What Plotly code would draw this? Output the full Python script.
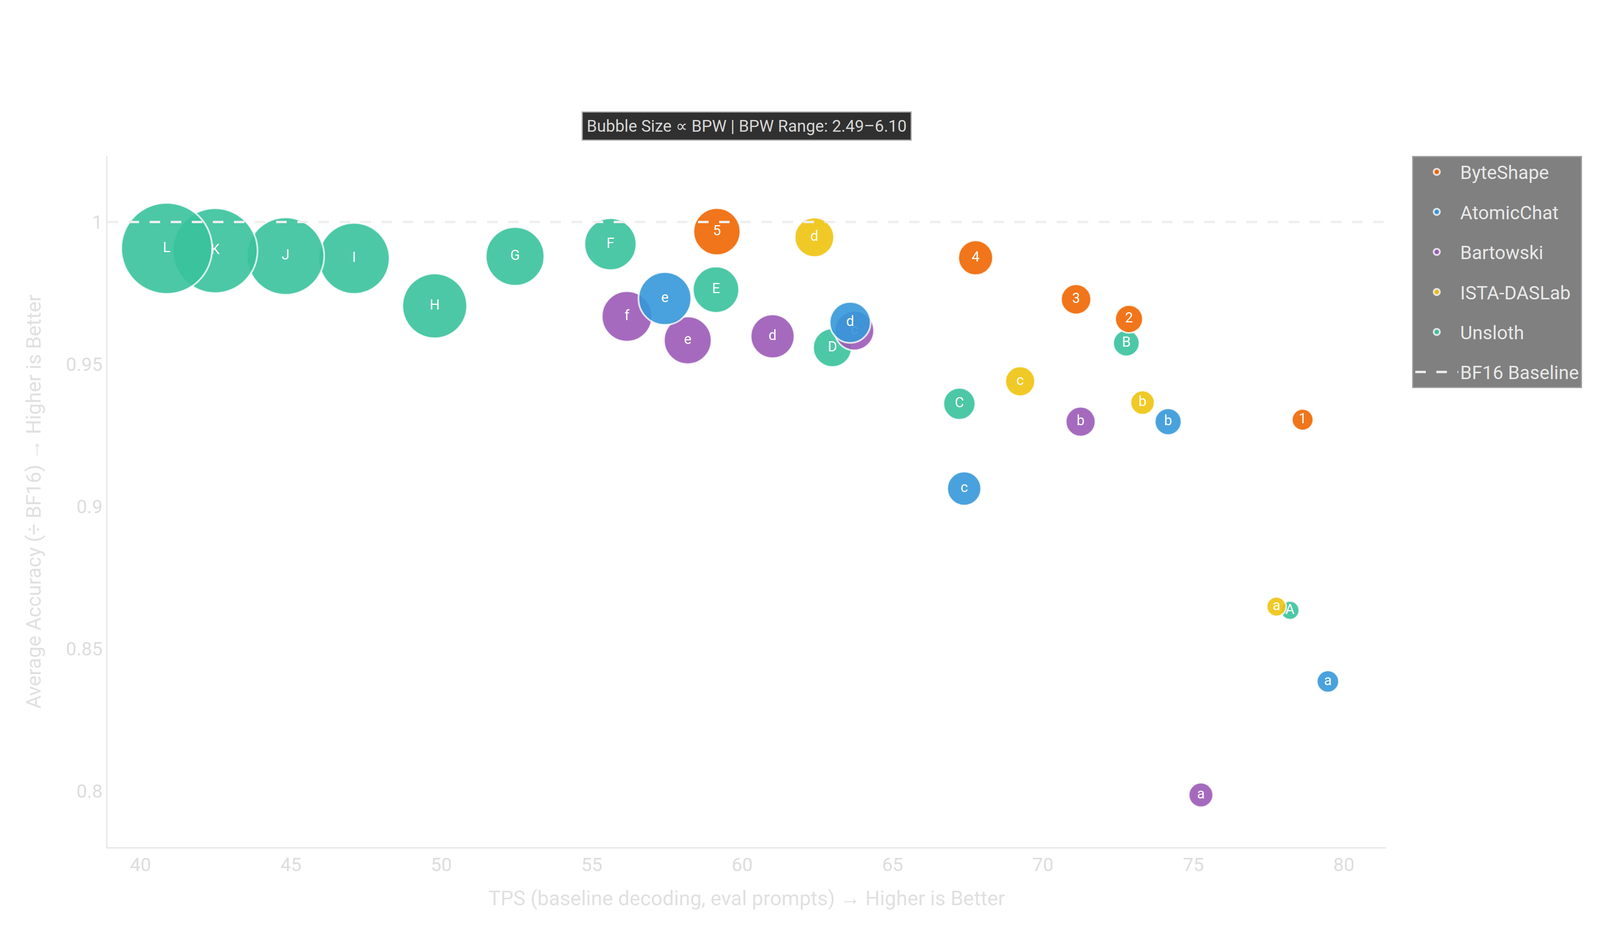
import plotly.graph_objects as go

# ---------------- data ----------------
groups = ["ByteShape", "AtomicChat", "Bartowski", "ISTA-DASLab", "Unsloth"]

byteshape_labels = ["1", "2", "3", "4", "5"]
byteshape_tps = [78.63, 72.86, 71.10, 67.76, 59.16]
byteshape_acc = [0.9305, 0.9659, 0.9728, 0.9874, 0.9966]
byteshape_bpw = [2.63, 2.94, 3.06, 3.29, 3.90]

atomic_labels = ["a", "b", "c", "d", "e"]
atomic_tps = [79.47, 74.16, 67.38, 63.59, 57.43]
atomic_acc = [0.8385, 0.9298, 0.9063, 0.9647, 0.9731]
atomic_bpw = [2.66, 2.89, 3.25, 3.60, 4.19]

bartowski_labels = ["a", "b", "c", "d", "e", "f"]
bartowski_tps = [75.25, 71.25, 63.73, 61.01, 58.19, 56.17]
bartowski_acc = [0.7986, 0.9298, 0.9618, 0.9598, 0.9584, 0.9668]
bartowski_bpw = [2.78, 3.04, 3.52, 3.74, 3.93, 4.07]

ista_labels = ["a", "b", "c", "d"]
ista_tps = [77.76, 73.31, 69.24, 62.40]
ista_acc = [0.8648, 0.9365, 0.9440, 0.9946]
ista_bpw = [2.53, 2.76, 3.04, 3.52]

unsloth_labels = ["A", "B", "C", "D", "E", "F", "G", "H", "I", "J", "K", "L"]
unsloth_tps = [78.21, 72.77, 67.22, 63.00, 59.13, 55.62, 52.45, 49.78, 47.10, 44.82, 42.48, 40.87]
unsloth_acc = [0.8635, 0.9574, 0.9361, 0.9558, 0.9762, 0.9922, 0.9879, 0.9705, 0.9872, 0.9880, 0.9899, 0.9907]
unsloth_bpw = [2.49, 2.87, 3.15, 3.48, 3.86, 4.15, 4.48, 4.79, 5.10, 5.42, 5.79, 6.10]

baseline_value = 1.0
x_ticks = [40, 45, 50, 55, 60, 65, 70, 75, 80]
y_ticks = [0.8, 0.85, 0.9, 0.95, 1.0]

# ---------------- styling ----------------
colors = {
    "ByteShape": "#F06702",
    "AtomicChat": "#3698DA",
    "Bartowski": "#9C5AB7",
    "ISTA-DASLab": "#F0C40F",
    "Unsloth": "#39C39D",
}
series = {
    "ByteShape": (byteshape_labels, byteshape_tps, byteshape_acc, byteshape_bpw),
    "AtomicChat": (atomic_labels, atomic_tps, atomic_acc, atomic_bpw),
    "Bartowski": (bartowski_labels, bartowski_tps, bartowski_acc, bartowski_bpw),
    "ISTA-DASLab": (ista_labels, ista_tps, ista_acc, ista_bpw),
    "Unsloth": (unsloth_labels, unsloth_tps, unsloth_acc, unsloth_bpw),
}

all_bpw = byteshape_bpw + atomic_bpw + bartowski_bpw + ista_bpw + unsloth_bpw
bpw_min, bpw_max = min(all_bpw), max(all_bpw)
SIZE_MIN, SIZE_MAX = 48, 233


def bubble_size(b):
    return SIZE_MIN + (b - bpw_min) / (bpw_max - bpw_min) * (SIZE_MAX - SIZE_MIN)


X_RANGE = [38.9, 81.4]
Y_RANGE = [0.7802, 1.0232]
FONT = "Roboto"

fig = go.Figure()

draw_order = ["Unsloth", "ISTA-DASLab", "Bartowski", "AtomicChat", "ByteShape"]
for name in draw_order:
    labels, tps, acc, bpw = series[name]
    fig.add_trace(go.Scatter(
        x=tps, y=acc, mode="markers+text", name=name,
        text=labels, textposition="middle center",
        textfont=dict(family=FONT, size=36, color="white"),
        marker=dict(size=[bubble_size(b) for b in bpw], sizemode="diameter",
                    color=colors[name], opacity=0.9,
                    line=dict(color="rgba(255,255,255,0.85)", width=4.5)),
        legendgroup=name, legendrank=groups.index(name) + 1,
        cliponaxis=False, hoverinfo="skip",
    ))

fig.add_trace(go.Scatter(
    x=X_RANGE, y=[baseline_value, baseline_value], mode="lines",
    name="BF16 Baseline",
    line=dict(color="#eeeeee", width=6, dash="27px,27px"),
    legendgroup="baseline", legendrank=6, hoverinfo="skip",
))

fig.add_annotation(
    text=f"Bubble Size \u221d BPW | BPW Range: {bpw_min:.2f}\u2013{bpw_max:.2f}",
    xref="paper", yref="paper", x=0.5, y=1.043, xanchor="center", yanchor="middle",
    showarrow=False, bgcolor="#303030", bordercolor="#a8a8a8", borderwidth=3,
    borderpad=10, font=dict(family=FONT, size=42, color="#d6d6d6"),
)

fig.update_layout(
    width=4200, height=2400,
    paper_bgcolor="white", plot_bgcolor="white",
    margin=dict(l=267, r=660, t=391, b=240),
    font=dict(family=FONT, color="#dddddd"),
    showlegend=True,
    legend=dict(
        x=1.0205, y=1.0, xanchor="left", yanchor="top",
        bgcolor="#808080", bordercolor="#a0a0a0", borderwidth=3,
        font=dict(family=FONT, size=48, color="#e8e8e8"),
        traceorder="grouped", tracegroupgap=37, itemwidth=110,
        itemsizing="trace",
    ),
    xaxis=dict(
        range=X_RANGE, tickvals=x_ticks, showgrid=False, zeroline=False,
        showline=True, linecolor="#e5e5e5", linewidth=3, ticks="",
        tickfont=dict(family=FONT, size=48, color="#dddddd"),
        title=dict(text="TPS (baseline decoding, eval prompts) \u2192 Higher is Better",
                   font=dict(family=FONT, size=52, color="#e0e0e0"), standoff=40),
    ),
    yaxis=dict(
        range=Y_RANGE, tickvals=y_ticks, ticktext=[str(v) if v != 1.0 else "1" for v in y_ticks],
        showgrid=False, zeroline=False,
        showline=True, linecolor="#e5e5e5", linewidth=3, ticks="",
        tickfont=dict(family=FONT, size=48, color="#dddddd"),
        title=dict(text="Average Accuracy (\u00f7 BF16) \u2192 Higher is Better",
                   font=dict(family=FONT, size=52, color="#e0e0e0"), standoff=48),
    ),
)

fig.write_html("out.html")
